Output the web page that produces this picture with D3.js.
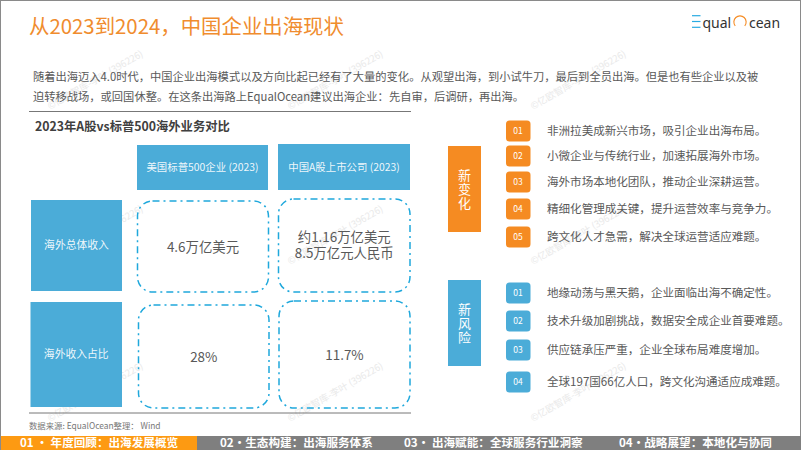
<!DOCTYPE html>
<html>
<head>
<meta charset="utf-8">
<script src="https://cdn.jsdelivr.net/npm/d3@7"></script>
<style>
  html, body { margin: 0; padding: 0; background: #fff; }
  svg { display: block; }
  text { font-family: "Noto Sans CJK SC", "Noto Sans", sans-serif; }
</style>
</head>
<body>
<script>
const titleText = '从2023到2024\uFF0C中国企业出海现状';
const introLines = [
  '随着出海迈入4.0时代\uFF0C中国企业出海模式以及方向比起已经有了大量的变化。从观望出海\uFF0C到小试牛刀\uFF0C最后到全员出海。但是也有些企业以及被',
  '迫转移战场\uFF0C或回国休整。在这条出海路上EqualOcean建议出海企业\uFF1A先自审\uFF0C后调研\uFF0C再出海。'
];
const tableTitle = '2023年A股vs标普500海外业务对比';
const columnNames = ['美国标普500企业 (2023)', '中国A股上市公司 (2023)'];
const rowNames = ['海外总体收入', '海外收入占比'];
const cellValues = [
  ['4.6万亿美元'],
  ['约1.16万亿美元', '8.5万亿元人民币'],
  ['28%'],
  ['11.7%']
];
const sourceText = '数据来源: EqualOcean整理\uFF1A Wind';
const changeItems = [
  '非洲拉美成新兴市场\uFF0C吸引企业出海布局。',
  '小微企业与传统行业\uFF0C加速拓展海外市场。',
  '海外市场本地化团队\uFF0C推动企业深耕运营。',
  '精细化管理成关键\uFF0C提升运营效率与竞争力。',
  '跨文化人才急需\uFF0C解决全球运营适应难题。'
];
const riskItems = [
  '地缘动荡与黑天鹅\uFF0C企业面临出海不确定性。',
  '技术升级加剧挑战\uFF0C数据安全成企业首要难题。',
  '供应链承压严重\uFF0C企业全球布局难度增加。',
  '全球197国66亿人口\uFF0C跨文化沟通适应成难题。'
];
const navItems = [
  '01 •  年度回顾\uFF1A出海发展概览',
  '02•生态构建\uFF1A出海服务体系',
  '03• 出海赋能\uFF1A全球服务行业洞察',
  '04•战略展望\uFF1A本地化与协同'
];
const watermark = '©亿欧智库-李叶 (396226)';

// layout
const orange = '#f58b22', blue = '#4bacd8', dash = '#1fa8dc', textGrey = '#595959';
const headerBoxes = [[137, 145, 131, 45], [278, 144, 132, 46]];
const rowBoxes = [[31, 200, 91, 91], [30.5, 302, 91.5, 105]];
const cellBoxes = [[137.5, 201, 131, 91], [278.5, 199, 131.5, 93], [138.5, 305, 130.5, 103], [279, 301, 131, 107]];
const changeY = [131, 156, 182, 209, 237];
const riskY = [293, 321, 350, 382];
const navX = [20, 220, 404, 619];
const markX = [50, 290, 533];
const markY = [110, 265, 422];

const svg = d3.select('body').append('svg').attr('width', 802).attr('height', 451);

// watermark tiles
svg.append('g').selectAll('text')
  .data(d3.cross(markX, markY))
  .join('text')
  .attr('transform', d => `translate(${d[0]},${d[1]}) rotate(-30)`)
  .attr('font-size', 9.5)
  .attr('fill', '#e9e9e9')
  .text(watermark);

// frame
svg.append('rect').attr('x', 0.5).attr('y', 0.5).attr('width', 800).attr('height', 449)
  .attr('fill', 'none').attr('stroke', '#8a8a8a');

svg.append('text').attr('x', 29).attr('y', 34)
  .attr('font-size', 20.4).attr('fill', '#f08c2e').text(titleText);

// logo
const logo = svg.append('g').attr('transform', 'translate(692,0)');
logo.selectAll('line').data([15.7, 21.5, 27.3]).join('line')
  .attr('x1', 0).attr('x2', 8.5).attr('y1', d => d).attr('y2', d => d)
  .attr('stroke', '#29abe2').attr('stroke-width', 1.2);
logo.append('text').attr('x', 10.5).attr('y', 27.5).attr('font-size', 14).attr('fill', '#333')
  .style('font-family', '"Noto Sans"').text('qual');
logo.append('text').attr('x', 57).attr('y', 27.5).attr('font-size', 14).attr('fill', '#333')
  .style('font-family', '"Noto Sans"').text('cean');
logo.append('path')
  .attr('transform', 'translate(48,22)')
  .attr('d', d3.arc().innerRadius(5.6).outerRadius(6.7).startAngle(-Math.PI * 0.72).endAngle(Math.PI * 0.72)())
  .attr('fill', orange);

svg.append('g').selectAll('text').data(introLines).join('text')
  .attr('x', 33).attr('y', (d, i) => 81 + i * 20)
  .attr('font-size', 11.27).attr('fill', textGrey).text(d => d);

svg.selectAll('line.rule').data([111.5, 413]).join('line').attr('class', 'rule')
  .attr('x1', 29).attr('x2', 411).attr('y1', d => d).attr('y2', d => d)
  .attr('stroke', '#777');

svg.append('text').attr('x', 35).attr('y', 131)
  .attr('font-size', 12.3).attr('font-weight', 700).attr('fill', '#404040').text(tableTitle);

function filledBoxes(names, boxes, size) {
  const g = svg.append('g').selectAll('g').data(names).join('g');
  g.append('rect')
    .attr('x', (d, i) => boxes[i][0]).attr('y', (d, i) => boxes[i][1])
    .attr('width', (d, i) => boxes[i][2]).attr('height', (d, i) => boxes[i][3])
    .attr('fill', blue);
  g.append('text')
    .attr('x', (d, i) => boxes[i][0] + boxes[i][2] / 2)
    .attr('y', (d, i) => boxes[i][1] + boxes[i][3] / 2)
    .attr('dy', '0.36em').attr('text-anchor', 'middle')
    .attr('font-size', size).attr('fill', '#fff').attr('fill-opacity', 0.92).text(d => d);
}
filledBoxes(columnNames, headerBoxes, 10.4);
filledBoxes(rowNames, rowBoxes, 10.8);

// dash-dot value cells
const cells = svg.append('g').selectAll('g').data(cellValues).join('g');
cells.append('rect')
  .attr('x', (d, i) => cellBoxes[i][0]).attr('y', (d, i) => cellBoxes[i][1])
  .attr('width', (d, i) => cellBoxes[i][2]).attr('height', (d, i) => cellBoxes[i][3])
  .attr('rx', 15).attr('fill', 'none')
  .attr('stroke', dash).attr('stroke-width', 1.5).attr('stroke-dasharray', '7 4 2 4');
cells.each(function (lines, i) {
  const b = cellBoxes[i];
  d3.select(this).selectAll('text').data(lines).join('text')
    .attr('x', b[0] + b[2] / 2)
    .attr('y', (d, j) => b[1] + b[3] / 2 + (j - (lines.length - 1) / 2) * 16 + (i === 1 ? 0 : 1))
    .attr('dy', '0.36em').attr('text-anchor', 'middle')
    .attr('font-size', 13.4).attr('fill', textGrey).text(d => d);
});

svg.append('text').attr('x', 29).attr('y', 429)
  .attr('font-size', 8.4).attr('fill', '#777').text(sourceText);

// right column
function sidePanel(label, top, color, items, ys) {
  svg.append('rect').attr('x', 448).attr('y', top).attr('width', 33).attr('height', 86).attr('fill', color);
  svg.append('text')
    .attr('x', 464.5).attr('y', top + 22.5)
    .style('writing-mode', 'vertical-rl')
    .style('letter-spacing', '1px')
    .attr('font-size', 13).attr('fill', '#fff')
    .text(label);
  const row = svg.append('g').selectAll('g').data(items).join('g')
    .attr('transform', (d, i) => `translate(0,${ys[i]})`);
  row.append('rect').attr('x', 506).attr('y', -10.5).attr('width', 24.5).attr('height', 21)
    .attr('rx', 3.5).attr('fill', color);
  row.append('text').attr('x', 518).attr('dy', '0.36em').attr('text-anchor', 'middle')
    .attr('font-size', 8.5).attr('fill', '#fff').text((d, i) => d3.format('02')(i + 1));
  row.append('text').attr('x', 547).attr('dy', '0.36em')
    .attr('font-size', 11.55).attr('fill', textGrey).text(d => d);
}
sidePanel('新变化', 146, orange, changeItems, changeY);
sidePanel('新风险', 280, blue, riskItems, riskY);

// bottom nav
svg.append('rect').attr('x', 1).attr('y', 436).attr('width', 196).attr('height', 14).attr('fill', '#fd9a12');
svg.append('rect').attr('x', 197).attr('y', 436).attr('width', 604).attr('height', 14).attr('fill', '#7f7f7f');
svg.append('g').selectAll('text').data(navItems).join('text')
  .attr('x', (d, i) => navX[i]).attr('y', 443).attr('dy', '0.36em')
  .attr('font-size', 11.6).attr('font-weight', 700).attr('fill', '#fff').text(d => d);
</script>
</body>
</html>
